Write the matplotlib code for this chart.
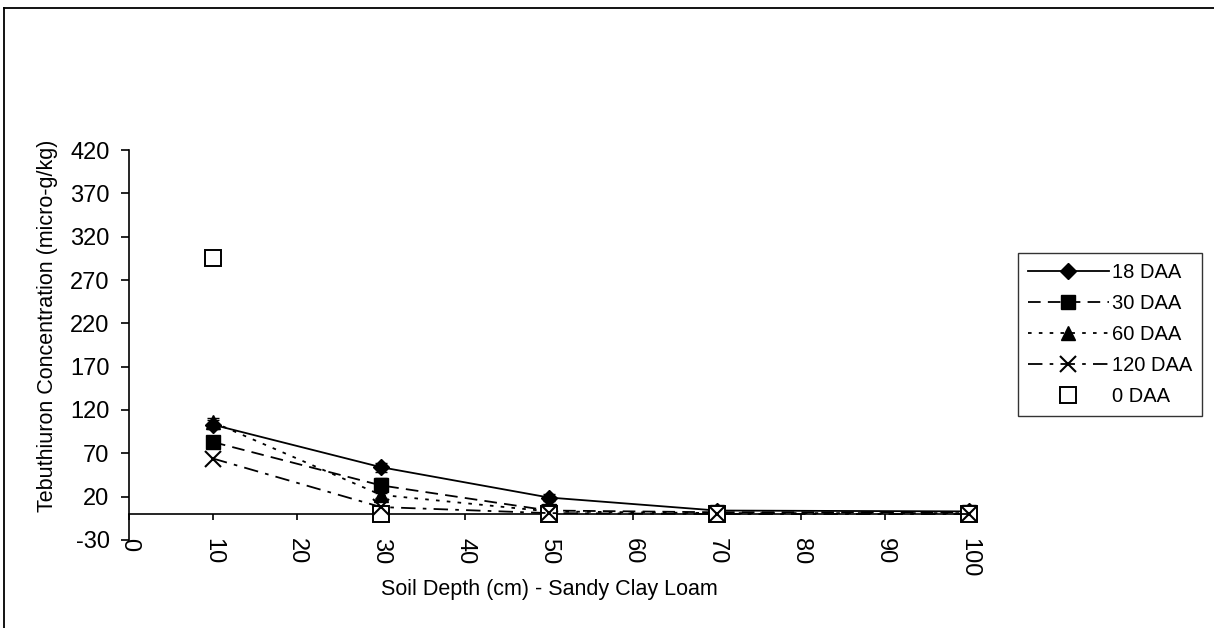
import matplotlib
matplotlib.use("Agg")
import matplotlib.pyplot as plt
from matplotlib.lines import Line2D

plt.rcParams["font.family"] = ["Liberation Sans", "DejaVu Sans"]
plt.rcParams["axes.unicode_minus"] = False

# Soil depth (cm) and tebuthiuron concentration (micro-g/kg) per sampling time
depth = [10, 30, 50, 70, 100]
daa_18 = [103, 54, 19, 4, 3]
daa_18_err = [5, 5, 4, 1, 1]
daa_30 = [83, 33, 4, 2, 2]
daa_30_err = [4, 9, 1, 1, 1]
daa_60 = [106, 22, 3, 1, 1]
daa_60_err = [5, 4, 1, 1, 1]
daa_120 = [64, 8, 1, 0, 0]
daa_0 = [295, 0, 0, 0, 0]

series_labels = ["18 DAA", "30 DAA", "60 DAA", "120 DAA", "0 DAA"]
x_ticks = [0, 10, 20, 30, 40, 50, 60, 70, 80, 90, 100]
y_ticks = [-30, 20, 70, 120, 170, 220, 270, 320, 370, 420]

fig = plt.figure(figsize=(12.14, 6.28), dpi=100)
ax = fig.add_axes([129 / 1214, 1 - 540 / 628, 840 / 1214, 390 / 628])

ms = 10
styles = [
    dict(ls="-", marker="D", ms=ms - 2),
    dict(ls=(0, (7, 4)), marker="s", ms=ms),
    dict(ls=(0, (2, 4)), marker="^", ms=ms),
    dict(ls=(0, (8, 4, 2, 4)), marker="x", ms=ms + 1, mew=1.5),
    dict(ls="none", marker="s", ms=ms + 2, mfc="white", mew=1.4),
]

for y, err, st in zip([daa_18, daa_30, daa_60], [daa_18_err, daa_30_err, daa_60_err],
                      styles[:3]):
    eb = ax.errorbar(depth, y, yerr=err, color="black", lw=1.3, capsize=4,
                     elinewidth=1.2, zorder=2, **st)
    for art in eb.get_children():
        art.set_clip_on(False)
ax.plot(depth, daa_0, color="black", zorder=3, clip_on=False, **styles[4])
ax.plot(depth, daa_120, color="black", lw=1.3, zorder=4, clip_on=False,
        **styles[3])

ax.set_xlim(0, 100)
ax.set_ylim(-30, 420)
ax.set_xticks(x_ticks)
ax.set_yticks(y_ticks)

for side in ("top", "right"):
    ax.spines[side].set_visible(False)
ax.spines["bottom"].set_position(("data", 0))
ax.spines["bottom"].set_linewidth(1.2)
ax.spines["left"].set_linewidth(1.2)

ax.tick_params(axis="x", direction="out", length=4, width=1.2, pad=13,
               labelsize=17, labelrotation=-90)
ax.tick_params(axis="y", direction="out", length=6, width=1.2, pad=8,
               labelsize=17)

ax.set_xlabel("Soil Depth (cm) - Sandy Clay Loam", fontsize=15.5)
ax.xaxis.set_label_coords(0.501, -0.10)
ax.set_ylabel("Tebuthiuron Concentration (micro-g/kg)", fontsize=15.5)
ax.yaxis.set_label_coords(-0.084, 0.55)

handles = [Line2D([], [], color="black", lw=1.3, **st) for st in styles]
leg = ax.legend(handles, series_labels,
                loc="upper left", bbox_to_anchor=(1018 / 1214, 1 - 253 / 628),
                bbox_transform=fig.transFigure, fontsize=14.5, frameon=True,
                fancybox=False, shadow=False, handlelength=4.0,
                handletextpad=0.15, labelspacing=0.6, borderpad=0.5,
                borderaxespad=0)
leg.get_frame().set_edgecolor("black")
leg.get_frame().set_linewidth(1.0)

# Outer chart-area frame (top and left edges)
fig.add_artist(Line2D([4 / 1214, 1.0], [1 - 8 / 628, 1 - 8 / 628],
                      transform=fig.transFigure, color="black", lw=1.3))
fig.add_artist(Line2D([4 / 1214, 4 / 1214], [0.0, 1 - 8 / 628],
                      transform=fig.transFigure, color="black", lw=1.3))

fig.savefig("out.png", dpi=100)
